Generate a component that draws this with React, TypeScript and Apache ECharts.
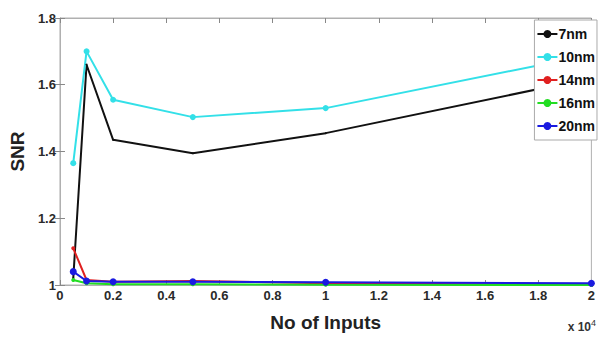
import React, { useEffect, useRef } from "react";
import * as echarts from "echarts";

const xValues = [0.05, 0.1, 0.2, 0.5, 1, 2];
const seriesNames = ["7nm", "10nm", "14nm", "16nm", "20nm"];
const s7nm = [1.02, 1.66, 1.435, 1.395, 1.455, 1.62];
const s10nm = [1.365, 1.7, 1.555, 1.503, 1.53, 1.69];
const s14nm = [1.11, 1.015, 1.01, 1.012, 1.005, 1.0];
const s16nm = [1.015, 1.005, 1.002, 1.002, 1.001, 1.0];
const s20nm = [1.04, 1.012, 1.01, 1.01, 1.008, 1.005];
const colors = ["#111111", "#33e0e8", "#e02020", "#22dd22", "#1a1ae0"];
const symbolSizes = [2, 6, 4, 4, 7];

export default function App() {
  const ref = useRef<HTMLDivElement>(null);
  useEffect(() => {
    if (!ref.current) return;
    const chart = echarts.init(ref.current, null, { renderer: "svg" });
    const all = [s7nm, s10nm, s14nm, s16nm, s20nm];
    const font = "Liberation Sans";
    const tick = { show: true, inside: true, length: 5, lineStyle: { color: "#888" } };
    const line = { show: true, lineStyle: { color: "#b0b0b0" } };
    const fmt = (v: number) => String(Math.round(v * 10) / 10);
    chart.setOption({
      animation: false,
      backgroundColor: "#ffffff",
      grid: {
        left: 56,
        top: 18,
        right: 1,
        bottom: 54,
        show: true,
        borderColor: "#b0b0b0",
        borderWidth: 1,
      },
      legend: {
        orient: "vertical",
        right: 1,
        top: 20,
        z: 50,
        padding: [7, 2, 7, 2],
        itemGap: 9,
        itemWidth: 20,
        itemHeight: 10,
        backgroundColor: "#ffffff",
        borderColor: "#aaaaaa",
        borderWidth: 1,
        borderRadius: 0,
        data: seriesNames,
        textStyle: { fontFamily: font, fontWeight: "bold", fontSize: 14, color: "#111", padding: [0, 0, 0, -4] },
      },
      xAxis: [
        {
          type: "value",
          min: 0,
          max: 2,
          interval: 0.2,
          name: "No of Inputs",
          nameLocation: "middle",
          nameGap: 28,
          nameTextStyle: { fontFamily: font, fontWeight: "bold", fontSize: 19, color: "#222" },
          axisLine: line,
          axisTick: tick,
          axisLabel: { fontFamily: font, fontWeight: "bold", fontSize: 13, color: "#2a2a2a", margin: 4, formatter: fmt },
          splitLine: { show: false },
        },
        {
          type: "value",
          position: "top",
          min: 0,
          max: 2,
          interval: 0.2,
          axisLine: line,
          axisTick: tick,
          axisLabel: { show: false },
          splitLine: { show: false },
        },
      ],
      yAxis: [
        {
          type: "value",
          min: 1,
          max: 1.8,
          interval: 0.2,
          name: "SNR",
          nameLocation: "middle",
          nameGap: 28,
          nameRotate: 90,
          nameTextStyle: { fontFamily: font, fontWeight: "bold", fontSize: 19, color: "#222" },
          axisLine: line,
          axisTick: tick,
          axisLabel: { fontFamily: font, fontWeight: "bold", fontSize: 13, color: "#2a2a2a", margin: 4, formatter: fmt },
          splitLine: { show: false },
        },
        {
          type: "value",
          position: "right",
          min: 1,
          max: 1.8,
          interval: 0.2,
          axisLine: line,
          axisTick: tick,
          axisLabel: { show: false },
          splitLine: { show: false },
        },
      ],
      graphic: [
        {
          type: "text",
          right: 2,
          bottom: 6,
          style: {
            text: "x 10{s|4}",
            rich: { s: { fontSize: 9, verticalAlign: "top", padding: [0, 0, 8, 0], fontFamily: font } },
            fontFamily: font,
            fontSize: 12,
            fontWeight: "bold",
            fill: "#333",
          },
        },
      ],
      series: seriesNames.map((name, i) => ({
        name,
        type: "line",
        data: xValues.map((x, j) => [x, all[i][j]]),
        symbol: "circle",
        symbolSize: symbolSizes[i],
        showSymbol: true,
        lineStyle: { width: 2, color: colors[i] },
        itemStyle: { color: colors[i] },
        z: 2,
        zlevel: 0,
      })),
    });
    return () => chart.dispose();
  }, []);
  return <div ref={ref} style={{ width: 598, height: 339, position: "absolute", left: 0, top: 0 }} />;
}
